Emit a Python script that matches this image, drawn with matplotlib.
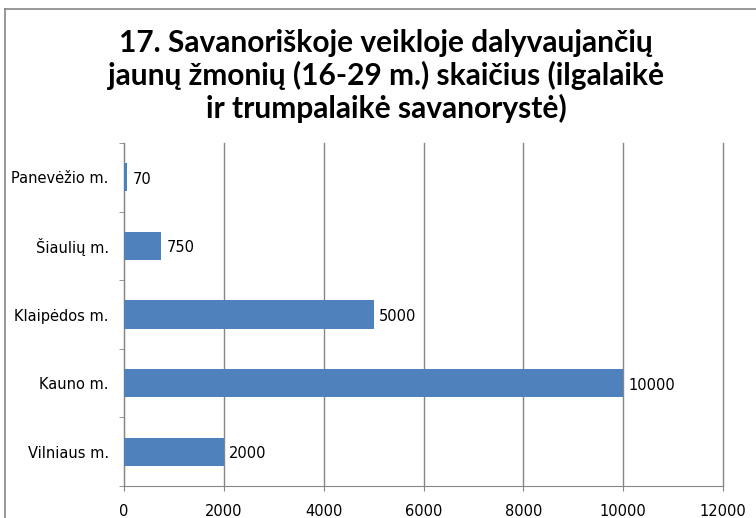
import matplotlib.pyplot as plt
from matplotlib.lines import Line2D

cities = ['Vilniaus m.', 'Kauno m.', 'Klaipėdos m.', 'Šiaulių m.', 'Panevėžio m.']
values = [2000, 10000, 5000, 750, 70]
xticks = [0, 2000, 4000, 6000, 8000, 10000, 12000]

W, H = 756, 518
fig = plt.figure(figsize=(W / 100, H / 100), dpi=100)

# plot area in pixels: x 124..723, y 143..486
ax = fig.add_axes([124 / W, 1 - 486 / H, (723 - 124) / W, (486 - 143) / H])

pos = range(len(cities))
ax.barh(pos, values, height=0.41, color='#4F81BD', zorder=3)
for p, v in zip(pos, values):
    ax.text(v + 110, p - 0.03, str(v), va='center', ha='left', fontsize=10.5,
            family='DejaVu Sans', color='black')

ax.set_xlim(0, 12000)
ax.set_ylim(-0.5, len(cities) - 0.5)
ax.set_xticks(xticks)
ax.set_xticklabels([str(t) for t in xticks], fontsize=10.5, family='DejaVu Sans')
ax.set_yticks(list(pos))
ax.set_yticklabels(cities, fontsize=10.5, family='DejaVu Sans')
ax.tick_params(axis='y', length=0, pad=11)
ax.set_yticks([i + 0.5 for i in range(-1, len(cities))], minor=True)
ax.tick_params(axis='y', which='minor', length=3.6, color='#868686')
ax.tick_params(axis='x', length=3.6, color='#868686', pad=9)

ax.grid(axis='x', color='#868686', linewidth=1, zorder=0)
for gl in ax.get_xgridlines():
    gl.set_clip_on(False)
for s in ['top', 'right']:
    ax.spines[s].set_visible(False)
for s in ['left', 'bottom']:
    ax.spines[s].set_color('#868686')

fig.text(386 / W, 1 - 29 / H,
         '17. Savanoriškoje veikloje dalyvaujančių\njaunų žmonių (16-29 m.) skaičius (ilgalaikė\nir trumpalaikė savanorystė)',
         ha='center', va='top', fontsize=21.5, fontweight='bold', family='Lato',
         linespacing=1.16)

# outer chart frame (cropped at right and bottom)
fig.add_artist(Line2D([5 / W, 5 / W], [0, 1 - 9 / H], color='#868686', linewidth=1.2))
fig.add_artist(Line2D([5 / W, 1], [1 - 9 / H, 1 - 9 / H], color='#868686', linewidth=1.2))

fig.savefig('out.png', dpi=100)
